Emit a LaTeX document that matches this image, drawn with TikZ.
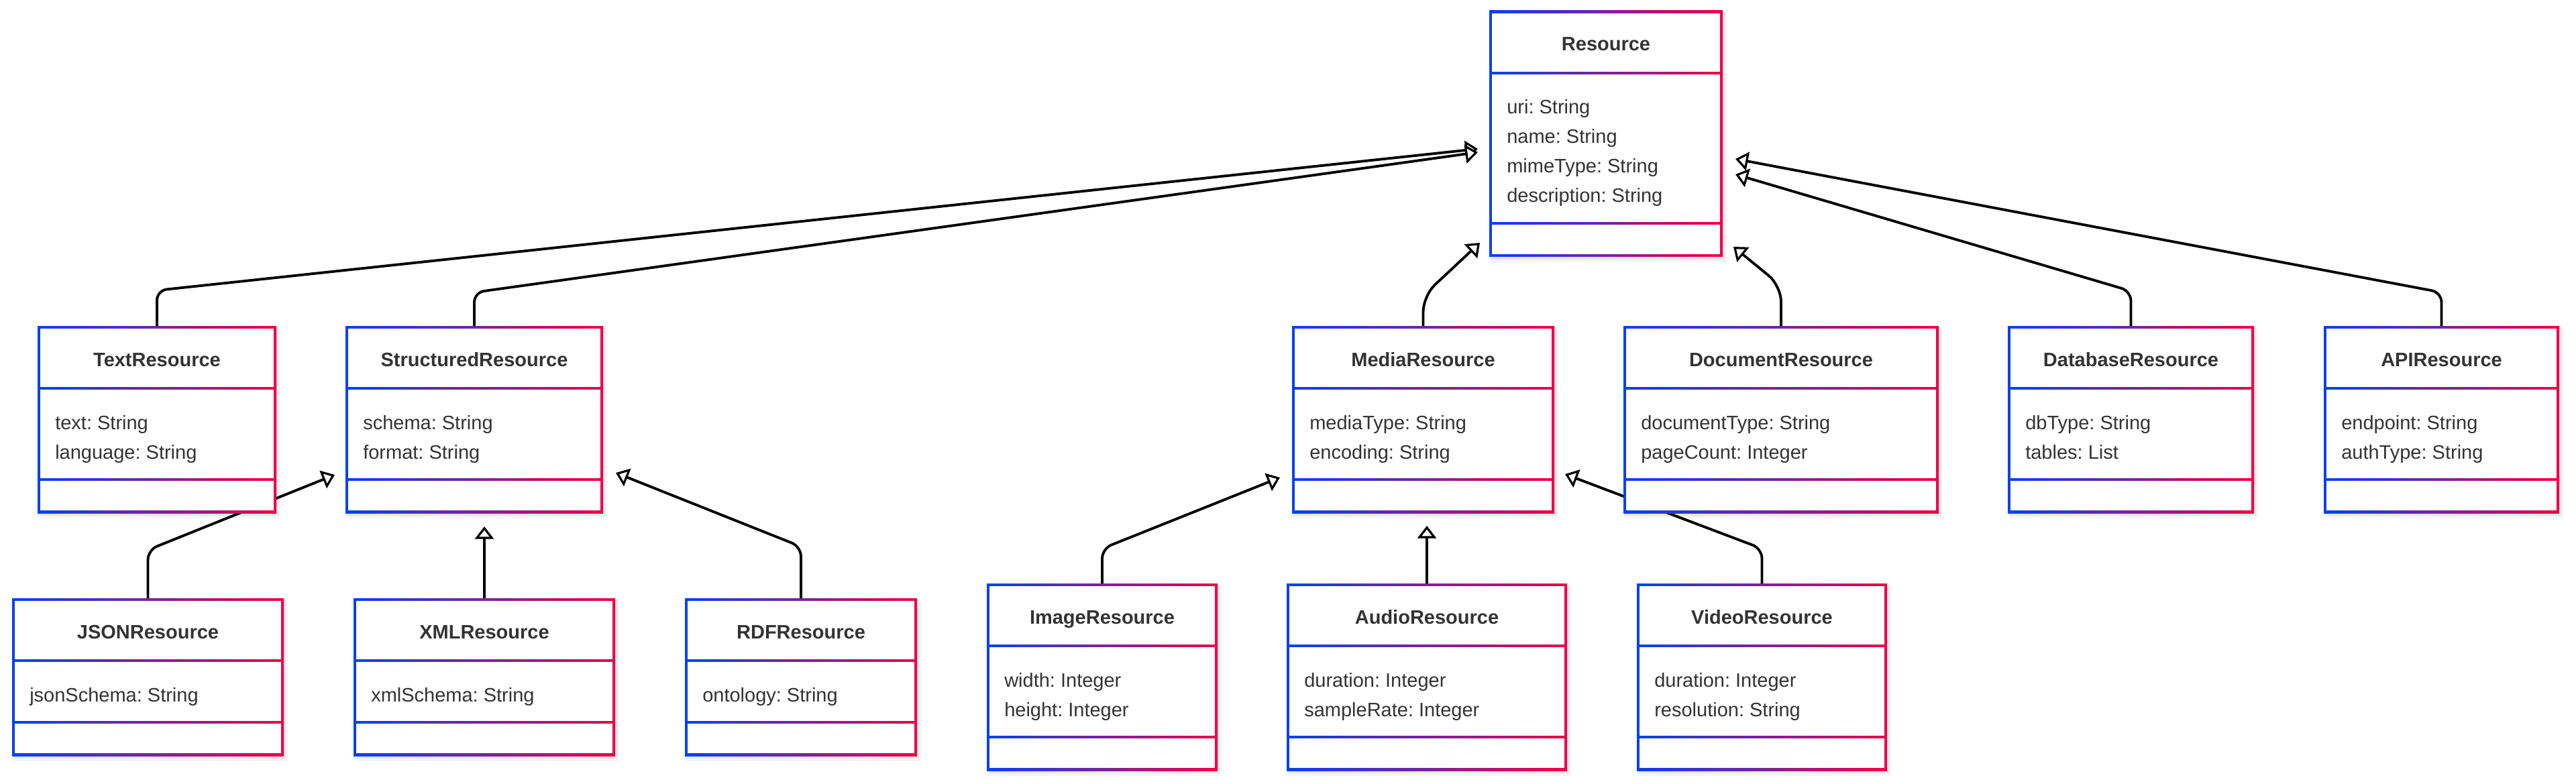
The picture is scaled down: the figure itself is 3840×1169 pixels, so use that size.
\documentclass[tikz,border=0pt]{standalone}
\usepackage{fontspec}
\setmainfont{Liberation Sans}
\frenchspacing
\usetikzlibrary{arrows.meta,calc,fit}
\definecolor{cblue}{RGB}{5,66,240}
\definecolor{cred}{RGB}{238,3,72}
\definecolor{txt}{RGB}{51,51,51}
\pgfdeclarelayer{bg}
\pgfdeclarelayer{edges}
\pgfsetlayers{bg,edges,main}
\tikzset{
  ttl/.style={font=\bfseries\fontsize{21.75pt}{26pt}\selectfont, text=txt, inner sep=0pt},
  att/.style={font=\frenchspacing\fontsize{21.75pt}{26pt}\selectfont, text=txt, inner sep=0pt},
  conn/.style={line width=2.9pt, black, rounded corners=11pt,
    -{Triangle[length=14pt, width=21pt, fill=white, line width=2.4pt]}},
}
\newcommand{\umlcls}[7]{%
  \pgfmathsetmacro\yh{#4+93}%
  \pgfmathsetmacro\ya{\yh+48+44*#5}%
  \pgfmathsetmacro\yb{\ya+50}%
  \pgfmathsetmacro\xc{(#2+#3)/2}%
  \fill[black,opacity=0.04] (#2+1,#4+3) rectangle (#3+6,\yb+8);
  \fill[black,opacity=0.06] (#2+1,#4+2) rectangle (#3+3,\yb+4);
  \node[fit={(#2,#4) (#3,\yb)}, inner sep=0pt, outer sep=0pt] (#1) {};
  \shade[left color=cblue, right color=cred] (#1.north west) rectangle (#1.south east);
  \fill[white] (#2+4,#4+4) rectangle (#3-4,\yh-2);
  \fill[white] (#2+4,\yh+2) rectangle (#3-4,\ya-2);
  \fill[white] (#2+4,\ya+2) rectangle (#3-4,\yb-4);
  \node[ttl, anchor=base] (#1-t) at (\xc,#4+60) {#6};
  \foreach \atxt [count=\i from 0] in {#7} {
    \node[att, anchor=base west] (#1-a\i) at (#2+26,#4+154+44*\i) {\atxt};
  }%
}
\begin{document}
\begin{tikzpicture}[x=0.75pt, y=-0.75pt]
\useasboundingbox (0,0) rectangle (3840,1169);
\begin{pgfonlayer}{bg}
\fill[white] (0,0) rectangle (3840,1169);
\end{pgfonlayer}

\umlcls{res}{2220}{2568}{16}{4}{Resource}{uri: String,name: String,mimeType: String,description: String}
\umlcls{txtr}{56}{412}{486}{2}{TextResource}{text: String,language: String}
\umlcls{struct}{515}{899}{486}{2}{StructuredResource}{schema: String,format: String}
\umlcls{media}{1926}{2317}{486}{2}{MediaResource}{mediaType: String,encoding: String}
\umlcls{doc}{2420}{2890}{486}{2}{DocumentResource}{documentType: String,pageCount: Integer}
\umlcls{db}{2993}{3360}{486}{2}{DatabaseResource}{dbType: String,tables: List}
\umlcls{api}{3464}{3815}{486}{2}{APIResource}{endpoint: String,authType: String}
\umlcls{json}{18}{423}{892}{1}{JSONResource}{jsonSchema: String}
\umlcls{xml}{527}{917}{892}{1}{XMLResource}{xmlSchema: String}
\umlcls{rdf}{1021}{1367}{892}{1}{RDFResource}{ontology: String}
\umlcls{img}{1471}{1815}{870}{2}{ImageResource}{width: Integer,height: Integer}
\umlcls{aud}{1918}{2336}{870}{2}{AudioResource}{duration: Integer,sampleRate: Integer}
\umlcls{vid}{2440}{2813}{870}{2}{VideoResource}{duration: Integer,resolution: String}

\begin{pgfonlayer}{edges}
\draw[conn] (txtr.north) -- ++(0,-53) -- ($(res.north west)+(-17,206)$);
\draw[conn] (struct.north) -- ++(0,-50) -- ($(res.north west)+(-17,211)$);
\draw[conn, rounded corners=18pt] (media.north) -- ++(0,-45) -- ($(res.south west)+(-14,-21)$);
\draw[conn, rounded corners=18pt] (doc.north) -- ++(0,-60) -- ($(res.south east)+(16,-15)$);
\draw[conn] (db.north) -- ++(0,-52) -- ($(res.north east)+(19,244)$);
\draw[conn] (api.north) -- ++(0,-50) -- ($(res.north east)+(19,221)$);
\draw[conn] (json.north) -- ++(0,-72) -- ($(struct.south west)+(-16,-57)$);
\draw[conn] (xml.north) -- ++(0,-107);
\draw[conn] (rdf.north) -- ++(0,-77) -- ($(struct.south east)+(19,-60)$);
\draw[conn] (img.north) -- ++(0,-52) -- ($(media.south west)+(-18,-53)$);
\draw[conn] (aud.north) -- ++(0,-86);
\draw[conn] (vid.north) -- ++(0,-52) -- ($(media.south east)+(16,-58)$);
\end{pgfonlayer}
\end{tikzpicture}
\end{document}
